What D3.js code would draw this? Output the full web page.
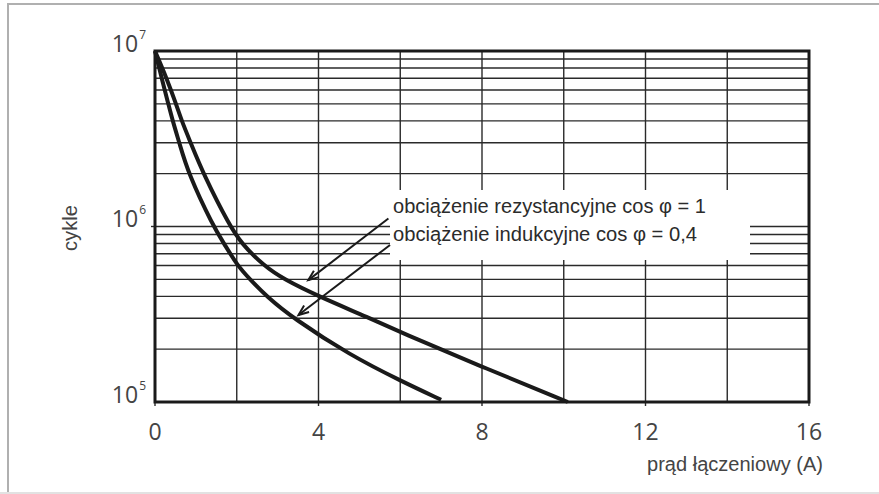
<!DOCTYPE html>
<html>
<head>
<meta charset="utf-8">
<script src="https://cdn.jsdelivr.net/npm/d3@7"></script>
<style>
  body { margin: 0; background: #fff; }
  svg { display: block; }
</style>
</head>
<body>
<script>
// Setup variables
const width = 879;
const height = 494;
const xStart = 155;
const xEnd = 809;
const yTop = 51;
const yBottom = 402;

// Data
const xTicks = [0, 4, 8, 12, 16];
const xGrid = [2, 4, 6, 8, 10, 12, 14];
const yTickExp = [5, 6, 7];
const yMinor = [2, 3, 4, 5, 6, 7, 8, 9];

// obciążenie rezystancyjne cos φ = 1
const currentRes = [0, 0.285, 0.514, 0.652, 0.873, 1.18, 1.835, 2.12, 2.65, 3.15, 4.0, 5.26, 6.0, 7.99, 10.1];
const cyclesRes = [1e7, 7e6, 5e6, 4e6, 3e6, 2e6, 1e6, 8e5, 6e5, 5e5, 4e5, 3e5, 2.5e5, 1.59e5, 1.0e5];

// obciążenie indukcyjne cos φ = 0,4
const currentInd = [0, 0.163, 0.326, 0.432, 0.595, 0.815, 1.427, 1.688, 2.014, 2.324, 2.73, 3.38, 4.77, 6.04, 7.0];
const cyclesInd = [1e7, 7e6, 5e6, 4e6, 3e6, 2e6, 1e6, 8e5, 6e5, 5e5, 4e5, 3e5, 1.85e5, 1.31e5, 1.03e5];

const labels = ["obciążenie rezystancyjne cos φ = 1", "obciążenie indukcyjne cos φ = 0,4"];
// arrows: [tail A, tail cycles, tip A, tip cycles]
const arrows = [
  [5.71, 1.11e6, 3.75, 4.95e5],
  [5.75, 7.85e5, 3.51, 3.13e5]
];

// Create the svg
const svg = d3.select("body")
  .append("svg")
  .attr("width", width)
  .attr("height", height);

// outer frame
svg.append("rect")
  .attr("x", 8).attr("y", 4)
  .attr("width", width + 20).attr("height", 489)
  .attr("fill", "none")
  .attr("stroke", "#b0b0b0")
  .attr("stroke-width", 2);
svg.append("line")
  .attr("x1", 0).attr("x2", width)
  .attr("y1", 493).attr("y2", 493)
  .attr("stroke", "#e2e2e2").attr("stroke-width", 2);

// scales
const x = d3.scaleLinear().domain([0, 16]).range([xStart, xEnd]);
const y = d3.scaleLog().domain([1e5, 1e7]).range([yBottom, yTop]);

// grid
const grid = svg.append("g").attr("stroke", "#2a2a2a").attr("stroke-width", 1.4);

const hValues = [];
[1e5, 1e6].forEach(dec => yMinor.forEach(m => hValues.push(m * dec)));
hValues.push(1e6);

grid.selectAll(".h")
  .data(hValues)
  .join("line")
  .attr("x1", xStart).attr("x2", xEnd)
  .attr("y1", d => y(d)).attr("y2", d => y(d));

grid.selectAll(".v")
  .data(xGrid)
  .join("line")
  .attr("x1", d => x(d)).attr("x2", d => x(d))
  .attr("y1", yTop).attr("y2", yBottom);

// small ticks outside the frame
grid.selectAll(".xt")
  .data(xTicks)
  .join("line")
  .attr("x1", d => x(d)).attr("x2", d => x(d))
  .attr("y1", yBottom).attr("y2", yBottom + 4);
grid.append("line")
  .attr("x1", xStart - 4).attr("x2", xStart)
  .attr("y1", y(1e6)).attr("y2", y(1e6));

// white box behind the labels
svg.append("rect")
  .attr("x", 390).attr("y", 190)
  .attr("width", 360).attr("height", 70)
  .attr("fill", "#fff");

// frame of the plot
svg.append("rect")
  .attr("x", xStart).attr("y", yTop)
  .attr("width", xEnd - xStart).attr("height", yBottom - yTop)
  .attr("fill", "none")
  .attr("stroke", "#1a1a1a")
  .attr("stroke-width", 3);

// curves
const line = d3.line()
  .x(d => x(d[0]))
  .y(d => y(d[1]))
  .curve(d3.curveBasis);

[[currentRes, cyclesRes], [currentInd, cyclesInd]].forEach(([xs, ys]) => {
  svg.append("path")
    .datum(xs.map((v, i) => [v, ys[i]]))
    .attr("d", line)
    .attr("fill", "none")
    .attr("stroke", "#1a1a1a")
    .attr("stroke-width", 4)
    .attr("stroke-linecap", "butt");
});

// arrows
arrows.forEach(a => {
  const x1 = x(a[0]), y1 = y(a[1]), x2 = x(a[2]), y2 = y(a[3]);
  const ang = Math.atan2(y2 - y1, x2 - x1);
  svg.append("line")
    .attr("x1", x1).attr("y1", y1).attr("x2", x2).attr("y2", y2)
    .attr("stroke", "#1a1a1a").attr("stroke-width", 2);
  const len = 11, spread = 0.38;
  const p1 = [x2 - len * Math.cos(ang - spread), y2 - len * Math.sin(ang - spread)];
  const p2 = [x2 - len * Math.cos(ang + spread), y2 - len * Math.sin(ang + spread)];
  svg.append("path")
    .attr("d", `M${p1[0]},${p1[1]}L${x2},${y2}L${p2[0]},${p2[1]}`)
    .attr("fill", "none")
    .attr("stroke", "#1a1a1a").attr("stroke-width", 2);
});

// label text
svg.selectAll(".lab")
  .data(labels)
  .join("text")
  .attr("x", 393)
  .attr("y", (d, i) => 213 + i * 28)
  .attr("font-family", "'Liberation Sans Narrow', 'Liberation Sans', Arial, sans-serif")
  .attr("font-size", 20)
  .attr("fill", "#2b2b2b")
  .attr("textLength", (d, i) => i === 0 ? 313 : 304)
  .attr("lengthAdjust", "spacingAndGlyphs")
  .text(d => d);

// y tick labels 10^n
const yl = svg.selectAll(".yl")
  .data(yTickExp)
  .join("text")
  .attr("x", 146)
  .attr("y", d => y(Math.pow(10, d)) + 0.5)
  .attr("text-anchor", "end")
  .attr("font-family", "'Open Sans', sans-serif")
  .attr("font-size", 23)
  .attr("fill", "#444");
yl.append("tspan").text("10");
yl.append("tspan")
  .attr("font-size", 12)
  .attr("dy", -13)
  .attr("dx", 1)
  .text(d => d);

// x tick labels
svg.selectAll(".xl")
  .data(xTicks)
  .join("text")
  .attr("x", d => x(d))
  .attr("y", 440)
  .attr("text-anchor", "middle")
  .attr("font-family", "'Open Sans', sans-serif")
  .attr("font-size", 23)
  .attr("fill", "#444")
  .text(d => d);

// axis titles
svg.append("text")
  .attr("x", 647)
  .attr("y", 471)
  .attr("font-family", "'Liberation Sans Narrow', 'Liberation Sans', Arial, sans-serif")
  .attr("font-size", 20)
  .attr("fill", "#444")
  .attr("textLength", 176)
  .attr("lengthAdjust", "spacingAndGlyphs")
  .text("prąd łączeniowy (A)");

svg.append("text")
  .attr("transform", "translate(77,228) rotate(-90)")
  .attr("text-anchor", "middle")
  .attr("font-family", "'Liberation Sans Narrow', 'Liberation Sans', Arial, sans-serif")
  .attr("font-size", 20)
  .attr("fill", "#444")
  .attr("textLength", 46)
  .attr("lengthAdjust", "spacingAndGlyphs")
  .text("cykle");
</script>
</body>
</html>
